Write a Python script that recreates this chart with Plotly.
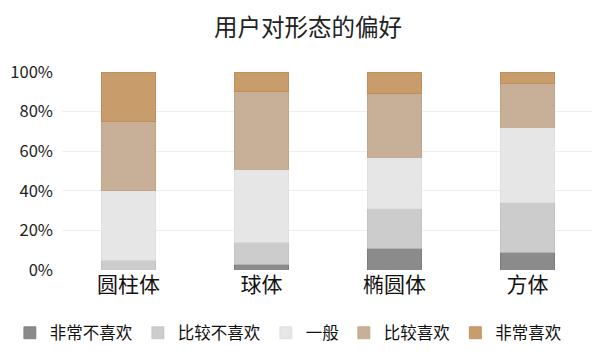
import plotly.graph_objects as go

categories = ["圆柱体", "球体", "椭圆体", "方体"]
series_names = ["非常不喜欢", "比较不喜欢", "一般", "比较喜欢", "非常喜欢"]
very_dislike = [0, 3, 11, 9]
dislike = [5, 11, 20, 25]
neutral = [35, 37, 26, 38]
like = [35, 39, 32, 22]
very_like = [25, 10, 11, 6]
tick_vals = [0, 20, 40, 60, 80, 100]
tick_text = ["0%", "20%", "40%", "60%", "80%", "100%"]

series_values = [very_dislike, dislike, neutral, like, very_like]
colors = ["#8c8b8c", "#cdcccd", "#e7e6e7", "#c8b098", "#c89d6b"]
borders = ["#7a797a", "#c2c1c2", "#dedede", "#bca385", "#b98c58"]

font = "Noto Sans CJK SC, Noto Sans, sans-serif"
fig = go.Figure()
for name, vals, c, bc in zip(series_names, series_values, colors, borders):
    fig.add_trace(go.Bar(x=categories, y=vals, name=name, width=0.41,
                         marker=dict(color=c, line=dict(color=bc, width=0.8))))

fig.update_layout(
    barmode="stack",
    width=600, height=357,
    margin=dict(l=54, r=14, t=64, b=95, autoexpand=False),
    paper_bgcolor="white", plot_bgcolor="white",
    font=dict(family=font, color="#222222"),
    title=dict(text="用户对形态的偏好", x=0.5, xanchor="center", y=0.945, yanchor="middle",
               font=dict(size=23.5, color="#222222", family=font)),
    showlegend=True,
    legend=dict(orientation="h", x=-0.098, xanchor="left", y=-0.23, yanchor="top",
                font=dict(size=16.5, color="#111111", family=font), traceorder="normal",
                itemwidth=30),
    xaxis=dict(tickfont=dict(size=21, color="#111111"), showgrid=False, showline=False,
               ticks="", ticklabelstandoff=0),
    yaxis=dict(range=[0, 100], tickvals=tick_vals, ticktext=tick_text,
               tickfont=dict(size=16.5, color="#222222"), showgrid=True,
               gridcolor="#f3eeee", gridwidth=1, zeroline=False, ticklabelstandoff=8),
)
fig.write_html("out.html")
